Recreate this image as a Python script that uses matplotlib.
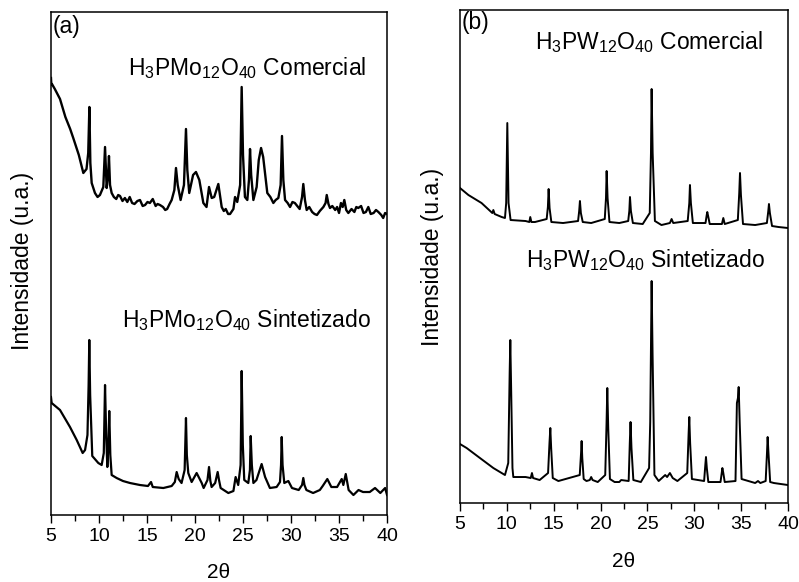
import matplotlib
matplotlib.use("Agg")
import matplotlib.pyplot as plt
from matplotlib.ticker import MultipleLocator

plt.rcParams["font.family"] = ["Liberation Sans", "DejaVu Sans"]
plt.rcParams["mathtext.fontset"] = "custom"
plt.rcParams["mathtext.rm"] = "Liberation Sans"
plt.rcParams["mathtext.it"] = "Liberation Sans"

# ---------------- XRD patterns (2theta in degrees, intensity in a.u.) ----------------
# H3PMo12O40, commercial sample
mo_com_2t = [5.00, 5.04, 5.10, 5.40, 5.94, 6.50, 7.00, 7.32, 7.90, 8.37, 8.70, 8.88, 9.00, 9.10,
             9.24, 9.58, 9.85, 10.10, 10.45, 10.63, 10.80, 10.95, 11.04, 11.15, 11.32, 11.55,
             11.80, 12.00, 12.19, 12.45, 12.70, 12.95, 13.20, 13.45, 13.70, 14.00, 14.27, 14.55,
             14.80, 15.05, 15.30, 15.60, 15.90, 16.10, 16.35, 16.67, 16.90, 17.10, 17.35, 17.57,
             17.85, 18.02, 18.20, 18.50, 18.85, 19.06, 19.20, 19.40, 19.80, 20.10, 20.45, 20.87,
             21.20, 21.46, 21.74, 22.00, 22.43, 22.78, 23.00, 23.20, 23.45, 23.65, 24.00, 24.17,
             24.40, 24.70, 24.86, 25.00, 25.20, 25.45, 25.62, 25.73, 25.85, 26.08, 26.42, 26.64,
             26.88, 27.10, 27.53, 27.85, 28.16, 28.40, 28.68, 28.92, 29.06, 29.20, 29.38, 29.65,
             29.90, 30.15, 30.40, 30.65, 30.90, 31.15, 31.28, 31.45, 31.63, 31.90, 32.20, 32.45,
             32.70, 33.00, 33.37, 33.60, 33.72, 33.90, 34.06, 34.30, 34.60, 34.80, 35.00, 35.20,
             35.38, 35.55, 35.75, 35.97, 36.30, 36.60, 36.80, 37.00, 37.30, 37.55, 37.80, 38.05,
             38.30, 38.60, 38.85, 39.10, 39.40, 39.60, 39.80, 40.00]
mo_com_i = [437, 430, 431, 426, 416, 398, 386, 377, 360, 342, 346, 362, 408, 352,
            332, 322, 318, 320, 328, 368, 327, 340, 359, 330, 322, 318,
            316, 320, 319, 314, 317, 313, 318, 312, 311, 314, 315, 309,
            310, 313, 312, 316, 309, 311, 310, 308, 305, 306, 311, 315,
            325, 347, 330, 315, 330, 386, 345, 322, 340, 343, 335, 312,
            308, 328, 317, 318, 331, 308, 304, 306, 301, 301, 306, 318,
            313, 330, 428, 360, 318, 315, 335, 366, 340, 315, 328, 355,
            367, 358, 322, 318, 312, 315, 317, 330, 379, 335, 315, 312,
            308, 313, 312, 309, 306, 318, 331, 315, 305, 308, 303, 301,
            300, 304, 308, 312, 320, 311, 307, 309, 305, 308, 302, 312,
            308, 315, 305, 302, 306, 303, 308, 307, 309, 302, 303, 308,
            301, 302, 305, 303, 300, 297, 302, 301]

# H3PMo12O40, synthesised sample
mo_sin_2t = [5.00, 5.07, 5.94, 6.98, 7.68, 8.30, 8.55, 8.80, 8.92, 8.99, 9.08, 9.30, 9.93,
             10.28, 10.50, 10.63, 10.75, 10.87, 10.98, 11.07, 11.18, 11.32, 11.84, 12.50, 13.23,
             14.27, 15.10, 15.42, 15.60, 16.70, 17.57, 17.90, 18.09, 18.30, 18.60, 18.92, 19.06,
             19.15, 19.30, 19.65, 20.17, 20.70, 20.90, 21.30, 21.46, 21.60, 21.73, 22.10, 22.36,
             22.50, 22.67, 23.47, 24.00, 24.23, 24.50, 24.75, 24.86, 24.98, 25.13, 25.55, 25.72,
             25.80, 25.92, 26.08, 26.40, 26.94, 27.30, 27.80, 28.50, 28.85, 28.96, 29.03, 29.12,
             29.30, 29.72, 30.10, 30.80, 31.15, 31.28, 31.40, 31.60, 32.30, 33.00, 33.30, 33.78,
             34.20, 34.80, 35.28, 35.45, 35.70, 36.00, 36.50, 37.03, 37.50, 38.20, 38.75, 39.30,
             39.80, 40.00]
mo_sin_i = [118, 112, 105, 88, 75, 62, 65, 80, 130, 175, 120, 59, 52,
            50, 62, 130, 80, 48, 70, 104, 60, 40, 37, 34, 32,
            30, 29, 33, 28, 27, 29, 33, 43, 36, 32, 45, 97,
            60, 42, 33, 42, 32, 27, 35, 48, 34, 28, 32, 43,
            35, 27, 22, 24, 38, 30, 50, 144, 70, 35, 32, 45,
            79, 50, 32, 35, 51, 38, 27, 28, 33, 50, 78, 50,
            32, 34, 27, 25, 30, 37, 30, 25, 22, 25, 29, 36,
            28, 28, 36, 30, 41, 25, 20, 25, 23, 23, 27, 22,
            27, 20]

# H3PW12O40, commercial sample
w_com_2t = [5.00, 5.90, 7.30, 8.45, 8.56, 8.70, 9.45, 9.80, 9.93, 10.05, 10.18, 10.40,
            12.00, 12.40, 12.50, 12.62, 13.00, 14.25, 14.38, 14.46, 14.56, 14.75, 16.00,
            17.60, 17.72, 17.80, 17.90, 18.10, 19.00, 20.45, 20.58, 20.65, 20.75, 20.95,
            22.00, 22.95, 23.07, 23.14, 23.24, 23.45, 24.50, 25.25, 25.38, 25.45, 25.56,
            25.80, 26.50, 27.40, 27.58, 27.76, 29.30, 29.47, 29.54, 29.64, 29.85, 31.20,
            31.33, 31.39, 31.48, 31.65, 32.95, 33.10, 33.25, 34.65, 34.80, 34.88, 34.98,
            35.20, 36.50, 37.75, 37.90, 37.97, 38.07, 38.30, 39.00, 40.00]
w_com_i = [315, 308, 300, 290, 293, 289, 286, 285, 300, 380, 300, 283,
           282, 281, 286, 281, 281, 284, 296, 314, 295, 281, 280,
           282, 292, 302, 290, 281, 280, 284, 305, 332, 305, 281,
           280, 282, 292, 306, 292, 280, 279, 290, 350, 414, 350,
           282, 278, 280, 284, 280, 282, 300, 318, 300, 280, 280,
           288, 291, 287, 279, 279, 285, 279, 283, 310, 330, 308,
           279, 278, 280, 292, 299, 290, 277, 276, 275]

# H3PW12O40, synthesised sample
w_sin_2t = [5.00, 5.71, 7.13, 8.56, 9.27, 9.80, 10.15, 10.30, 10.37, 10.45, 10.60, 10.69,
            12.00, 12.55, 12.68, 12.80, 13.50, 14.40, 14.55, 14.64, 14.73, 14.90, 15.50,
            17.78, 17.92, 17.98, 18.05, 18.20, 18.50, 18.85, 19.00, 19.15, 19.70, 20.50,
            20.64, 20.72, 20.82, 21.00, 21.50, 22.00, 22.20, 23.00, 23.12, 23.20, 23.30,
            23.50, 24.30, 25.18, 25.30, 25.45, 25.55, 25.75, 26.20, 26.90, 27.10, 27.40,
            27.70, 28.20, 29.25, 29.40, 29.47, 29.56, 29.75, 31.05, 31.18, 31.25, 31.34,
            31.50, 32.80, 32.93, 33.00, 33.10, 33.25, 34.40, 34.55, 34.66, 34.74, 34.85,
            35.05, 36.50, 36.80, 37.05, 37.62, 37.76, 37.83, 37.92, 38.10, 38.50, 40.00]
w_sin_i = [59, 55, 45, 35, 31, 28, 40, 130, 163, 120, 35, 26,
           26, 25, 30, 25, 23, 30, 60, 75, 55, 25, 22,
           28, 50, 62, 45, 24, 22, 23, 26, 23, 21, 28,
           80, 115, 75, 24, 21, 21, 23, 22, 60, 81, 55,
           23, 21, 35, 81, 222, 150, 28, 22, 28, 26, 30,
           25, 22, 30, 70, 86, 60, 24, 22, 38, 46, 35,
           21, 21, 30, 35, 30, 21, 22, 100, 105, 116, 80,
           24, 20, 22, 20, 22, 50, 66, 50, 21, 20, 18]

two_theta_ticks = [5, 10, 15, 20, 25, 30, 35, 40]

# ---------------- figure ----------------
fig = plt.figure(figsize=(7.99, 5.82), dpi=100)
ax_a = fig.add_axes([0.0638, 0.1151, 0.4206, 0.8643])
ax_b = fig.add_axes([0.5757, 0.1357, 0.4105, 0.8471])

label_mo = r"H$_\mathregular{3}$PMo$_\mathregular{12}$O$_\mathregular{40}$"
label_w = r"H$_\mathregular{3}$PW$_\mathregular{12}$O$_\mathregular{40}$"


def style_axis(ax, ymax):
    ax.set_xlim(5, 40)
    ax.set_ylim(0, ymax)
    ax.set_xticks(two_theta_ticks)
    ax.xaxis.set_minor_locator(MultipleLocator(2.5))
    ax.set_yticks([])
    ax.tick_params(axis="x", which="major", direction="out", length=5.8, width=1.0,
                   labelsize=14, pad=3.5, top=False)
    ax.tick_params(axis="x", which="minor", direction="out", length=4.0, width=1.0, top=False)
    for s in ax.spines.values():
        s.set_linewidth(1.1)
    ax.set_xlabel("2θ", fontsize=15, va="center")
    ax.set_ylabel("Intensidade (u.a.)", fontsize=16.5, va="center")


# panel (a): molybdophosphoric acid
ax_a.plot(mo_com_2t, mo_com_i, color="black", lw=1.7)
ax_a.plot(mo_sin_2t, mo_sin_i, color="black", lw=1.6)
style_axis(ax_a, 503)
ax_a.xaxis.set_label_coords(0.5, -0.115)
ax_a.yaxis.set_label_coords(-0.086, 0.505)
ax_a.text(0.006, 0.994, "(a)", transform=ax_a.transAxes, fontsize=16.5, ha="left", va="top")
ax_a.text(25.4, 440, label_mo + " Comercial", fontsize=16.5, ha="center", va="baseline")
ax_a.text(25.4, 188, label_mo + " Sintetizado", fontsize=16.5, ha="center", va="baseline")

# panel (b): tungstophosphoric acid
ax_b.plot(w_com_2t, w_com_i, color="black", lw=1.4)
ax_b.plot(w_sin_2t, w_sin_i, color="black", lw=1.4)
style_axis(ax_b, 493)
ax_b.xaxis.set_label_coords(0.5, -0.118)
ax_b.yaxis.set_label_coords(-0.085, 0.5)
ax_b.text(0.006, 0.998, "(b)", transform=ax_b.transAxes, fontsize=16.5, ha="left", va="top")
ax_b.text(25.17, 454, label_w + " Comercial", fontsize=16.5, ha="center", va="baseline")
ax_b.text(24.74, 236, label_w + " Sintetizado", fontsize=16.5, ha="center", va="baseline")

fig.savefig("out.png", dpi=100)
